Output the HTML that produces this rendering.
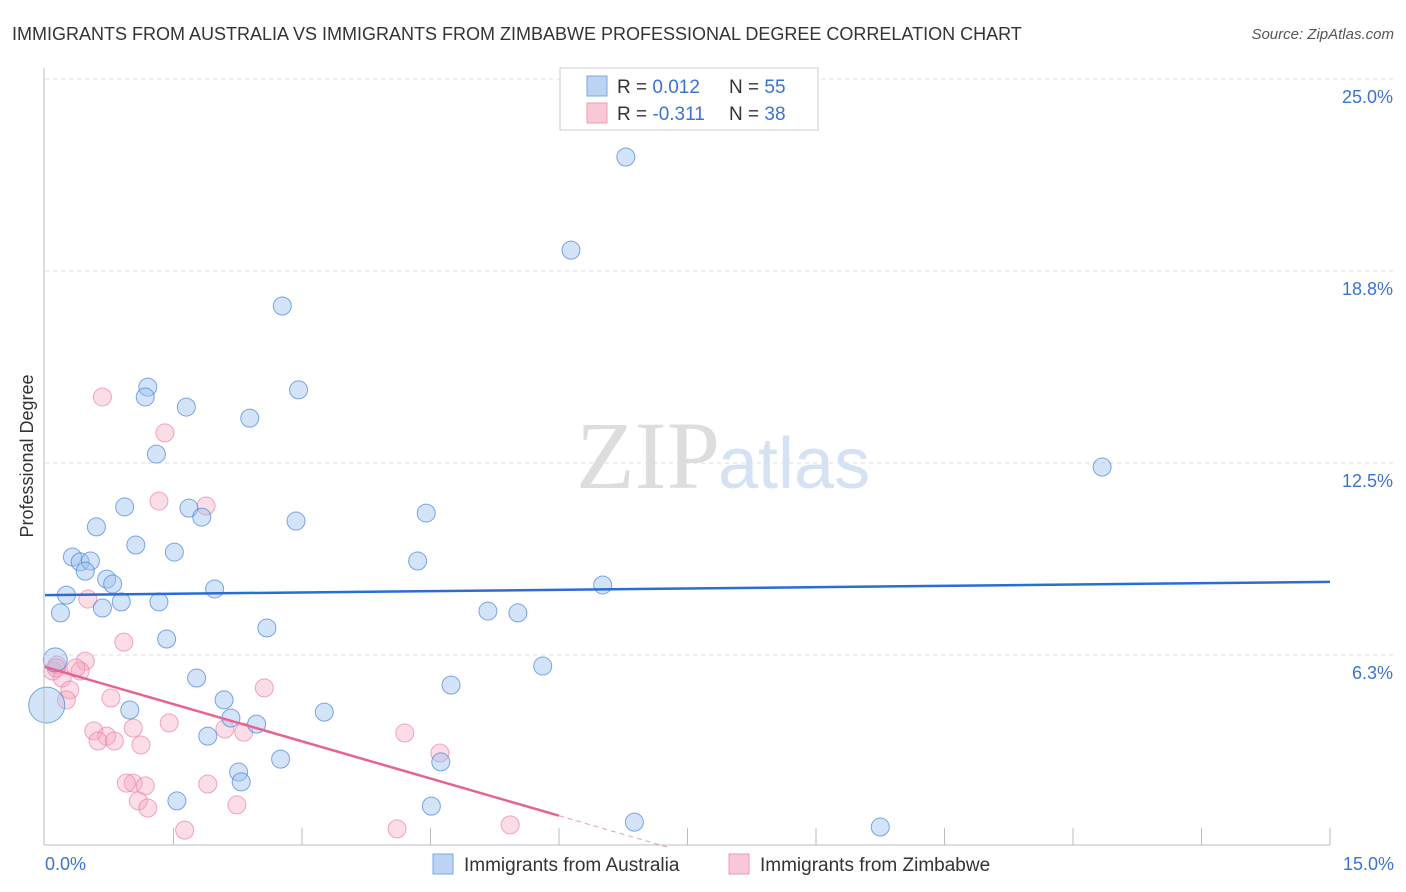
<!DOCTYPE html>
<html><head><meta charset="utf-8"><style>
body{margin:0;background:#fff;font-family:"Liberation Sans",sans-serif}
svg{display:block}
</style></head><body>
<svg id="c" width="1406" height="892" xmlns="http://www.w3.org/2000/svg">
<text x="12" y="40" font-size="18" fill="#333">IMMIGRANTS FROM AUSTRALIA VS IMMIGRANTS FROM ZIMBABWE PROFESSIONAL DEGREE CORRELATION CHART</text>
<text x="1394" y="39" font-size="15" fill="#555" font-style="italic" text-anchor="end">Source: ZipAtlas.com</text>
<text x="720" y="488" font-size="96" fill="#ddd" text-anchor="end" font-family="Liberation Serif">ZIP</text>
<text x="718" y="488" font-size="72" fill="#d4e2f4">atlas</text>
<text transform="translate(33,456) rotate(-90)" font-size="18" fill="#333" text-anchor="middle">Professional Degree</text>
<g id="grid"></g><g id="ticks"></g><g id="pts"></g><g id="lines"></g>
<line x1="44" y1="68" x2="44" y2="845" stroke="#bbb"/>
<line x1="44" y1="845" x2="1330" y2="845" stroke="#bbb"/>
<text x="45" y="870" font-size="18" fill="#3b73d1">0.0%</text>
<text x="1394" y="870" font-size="18" fill="#3b73d1" text-anchor="end">15.0%</text>
<g>
<rect x="560" y="68" width="258" height="62" fill="#fff" stroke="#ccc"/>
<rect x="587" y="76" width="20" height="20" fill="#bcd4f4" stroke="#7aa7e4"/>
<rect x="587" y="103" width="20" height="20" fill="#f9c8d7" stroke="#ee9ab4"/>
<text x="617" y="93" font-size="19" fill="#333">R = <tspan fill="#3b73d1">0.012</tspan></text>
<text x="729" y="93" font-size="19" fill="#333">N = <tspan fill="#3b73d1">55</tspan></text>
<text x="617" y="120" font-size="19" fill="#333">R = <tspan fill="#3b73d1">-0.311</tspan></text>
<text x="729" y="120" font-size="19" fill="#333">N = <tspan fill="#3b73d1">38</tspan></text>
</g>
<g>
<rect x="433" y="854" width="20" height="20" fill="#bcd4f4" stroke="#7aa7e4"/>
<text x="464" y="871" font-size="19" fill="#333">Immigrants from Australia</text>
<rect x="729" y="854" width="20" height="20" fill="#f9c8d7" stroke="#ee9ab4"/>
<text x="760" y="871" font-size="19" fill="#333">Immigrants from Zimbabwe</text>
</g>
</svg>
<script>
const yTicks=[25,18.75,12.5,6.25];
const yTickLabels=["25.0%","18.8%","12.5%","6.3%"];
const xTicks=[1.5,3,4.5,6,7.5,9,10.5,12,13.5,15];
const blueX=[6.78,6.14,2.77,2.96,1.20,1.17,1.65,2.39,1.30,12.34,0.93,1.68,1.83,2.93,4.45,0.60,1.06,1.51,0.32,0.41,0.53,4.35,0.47,0.72,0.79,1.98,6.51,0.25,1.33,0.89,0.67,0.18,5.17,5.52,2.59,1.42,5.81,0.12,1.77,4.74,2.09,0.02,0.99,3.26,2.17,2.47,1.90,2.75,4.62,2.26,2.29,1.54,4.51,6.88,9.75];
const blueY=[22.46,19.43,17.61,14.88,14.97,14.65,14.32,13.96,12.79,12.37,11.07,11.03,10.74,10.61,10.87,10.42,9.83,9.60,9.44,9.28,9.31,9.31,8.98,8.72,8.56,8.40,8.53,8.20,7.98,7.98,7.78,7.62,7.68,7.62,7.13,6.77,5.89,6.09,5.50,5.27,4.79,4.62,4.46,4.39,4.20,4.00,3.61,2.86,2.77,2.44,2.12,1.50,1.33,0.81,0.65];
const blueR=[10,10,10,10,10,10,10,10,10,10,10,10,10,10,10,10,10,10,10,10,10,10,10,10,10,10,10,10,10,10,10,10,10,10,10,10,10,13,10,10,10,19,10,10,10,10,10,10,10,10,10,10,10,10,10];
const pinkX=[0.67,1.40,1.33,1.88,0.50,0.92,0.47,0.14,0.09,0.41,0.36,0.20,0.29,0.25,0.77,2.56,1.45,1.03,0.57,2.10,2.32,0.72,0.62,0.81,1.12,4.20,4.61,1.03,0.95,1.17,1.90,1.09,2.24,1.20,1.63,4.11,5.43,0.13];
const pinkY=[14.65,13.48,11.26,11.10,8.07,6.67,6.05,5.92,5.73,5.73,5.83,5.50,5.11,4.79,4.85,5.18,4.04,3.87,3.78,3.84,3.74,3.61,3.45,3.45,3.32,3.71,3.06,2.08,2.08,1.99,2.05,1.50,1.37,1.27,0.55,0.59,0.72,5.83];
const blueTrend=[8.2,8.63];
const pinkTrend=[5.86,-0.807];
const NS="http://www.w3.org/2000/svg";
const sx=v=>45+v/15*1285, sy=v=>847-v/6.25*192;
function mk(p,t,a){const e=document.createElementNS(NS,t);for(const k in a)e.setAttribute(k,a[k]);document.getElementById(p).appendChild(e);return e;}
yTicks.forEach((v,i)=>{
 const l=mk('grid','line',{x1:45,x2:1394,y1:sy(v),y2:sy(v),stroke:'#ddd','stroke-dasharray':'4,4'});
 
 
 const t=mk('grid','text',{x:1393,y:sy(v)+24,'font-size':18,fill:'#3b73d1','text-anchor':'end'});
 t.textContent=yTickLabels[i];
 
 
});
xTicks.forEach(v=>{
 const l=mk('ticks','line',{x1:sx(v),x2:sx(v),y1:828,y2:845,stroke:'#bbb'});
 
 
});
pinkX.forEach((x,i)=>{
 const c=mk('pts','circle',{cx:sx(x),cy:sy(pinkY[i]),r:9,fill:'rgba(246,170,195,0.4)',stroke:'rgba(236,130,165,0.7)'});
 
 
});
blueX.forEach((x,i)=>{
 const c=mk('pts','circle',{cx:sx(x),cy:sy(blueY[i]),r:blueR[i]-1,fill:'rgba(160,195,240,0.45)',stroke:'rgba(70,130,220,0.7)'});
 
 
});
const bl=mk('lines','line',{x1:sx(0),y1:sy(blueTrend[0]),x2:sx(15),y2:sy(blueTrend[1]),stroke:'#2a6dd6','stroke-width':2.5});


const pf=x=>pinkTrend[0]+pinkTrend[1]*x;
const pl=mk('lines','line',{x1:sx(0),y1:sy(pf(0)),x2:sx(6),y2:sy(pf(6)),stroke:'#e8628f','stroke-width':2.5});


const pd=mk('lines','line',{x1:sx(6),y1:sy(pf(6)),x2:sx(7.26),y2:sy(pf(7.26)),stroke:'#e8a0b8','stroke-width':1,'stroke-dasharray':'5,4'});


</script>
</body></html>
